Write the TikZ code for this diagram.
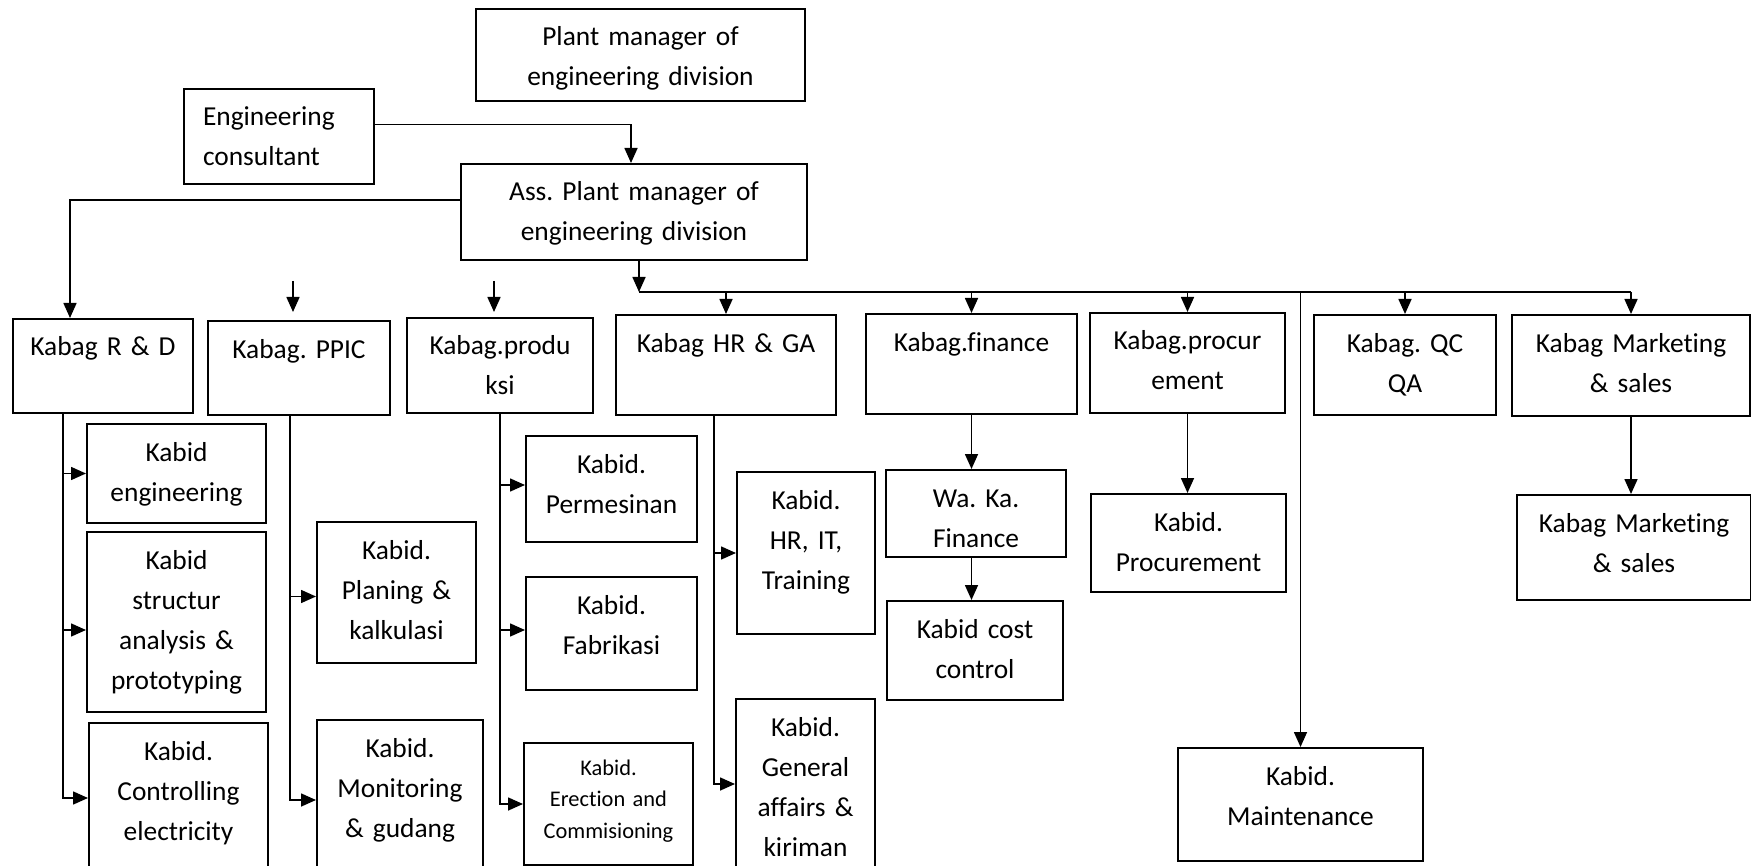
\documentclass[tikz,border=0pt]{standalone}
\usepackage{fontspec}
\setmainfont{Carlito}[Ligatures=NoCommon]
\usetikzlibrary{arrows.meta}
\frenchspacing

\begin{document}
\begin{tikzpicture}[
    x=0.5pt, y=-0.5pt,
    font=\fontsize{13.7}{20}\selectfont,
    orgbox/.style={draw, line width=1pt, anchor=north west, inner sep=0pt,
                   align=center, text height=18.5pt},
    link/.style={line width=0.8pt},
    arr/.style={link, -{Triangle[length=7.5pt, width=6.5pt]}}
]
\clip (0,0) rectangle (1751,866);

% management
\node[orgbox, text width=164.5pt, text depth=27.5pt] (plant) at (475,8) {Plant manager of\\engineering division};
\node[orgbox, align=left, inner xsep=9.5pt, text width=76pt, text depth=29pt] (cons) at (183,88) {Engineering\\consultant};
\node[orgbox, text width=173pt, text depth=29.5pt] (ass) at (460,163) {Ass. Plant manager of\\engineering division};

% kabag row
\node[orgbox, text width=90pt, text depth=28.5pt] (rnd) at (12,318) {Kabag R \& D};
\node[orgbox, text width=91pt, text depth=28.5pt] (ppic) at (207,320) {Kabag. PPIC};
\node[orgbox, text width=93pt, text depth=29pt] (prod) at (406,317) {Kabag.produ\\ksi};
\node[orgbox, text width=110pt, text depth=31.5pt] (hrga) at (615,314) {Kabag HR \& GA};
\node[orgbox, text width=105.5pt, text depth=31.5pt] (fin) at (865,313) {Kabag.finance};
\node[orgbox, text width=97.5pt, text depth=31.5pt] (proc) at (1089,312) {Kabag.procur\\ement};
\node[orgbox, text width=91pt, text depth=31.5pt] (qc) at (1313,314) {Kabag. QC\\QA};
\node[orgbox, text width=119pt, text depth=32pt] (mkt) at (1511,314) {Kabag Marketing\\\& sales};

% kabid boxes
\node[orgbox, text width=89.5pt, text depth=31pt] (keng) at (86,423) {Kabid\\engineering};
\node[orgbox, text width=89.5pt, text depth=71.5pt] (kstr) at (86,531) {Kabid\\structur\\analysis \&\\prototyping};
\node[orgbox, text width=89.5pt, text depth=56.5pt] (kctl) at (88,722) {Kabid.\\Controlling\\electricity};
\node[orgbox, text width=79.5pt, text depth=52pt] (kplan) at (316,521) {Kabid.\\Planing \&\\kalkulasi};
\node[orgbox, text width=83pt, text depth=56.5pt] (kmon) at (316,719) {Kabid.\\Monitoring\\\& gudang};
\node[orgbox, text width=85.5pt, text depth=34.5pt] (kperm) at (525,435) {Kabid.\\Permesinan};
\node[orgbox, text width=85.5pt, text depth=38pt] (kfab) at (525,576) {Kabid.\\Fabrikasi};
\node[orgbox, font=\fontsize{11.2}{15.8}\selectfont, text height=16pt,
      text width=84.5pt, text depth=45pt] (kerec) at (523,742) {Kabid.\\Erection and\\Commisioning};
\node[orgbox, text width=69pt, text depth=62.5pt] (khr) at (736,471) {Kabid.\\HR, IT,\\Training};
\node[orgbox, text width=69.5pt, text depth=66.5pt] (kga) at (735,698) {Kabid.\\General\\affairs \&\\kiriman};
\node[orgbox, text width=90pt, text depth=25pt] (waka) at (885,469) {Wa. Ka.\\Finance};
\node[orgbox, text width=88pt, text depth=31pt] (kcost) at (886,600) {Kabid cost\\control};
\node[orgbox, text width=97.5pt, text depth=30.5pt] (kproc) at (1090,493) {Kabid.\\Procurement};
\node[orgbox, text width=122.5pt, text depth=38pt] (kmnt) at (1177,747) {Kabid.\\Maintenance};
\node[orgbox, text width=117pt, text depth=34pt] (kmkt) at (1516,494) {Kabag Marketing\\\& sales};

% top links
\draw[arr] ([yshift=6pt]cons.east) -| ([xshift=-1.5pt]ass.north);
\draw[arr] ([yshift=6pt]ass.west) -| ([xshift=-16.5pt]rnd.north);
\coordinate (bus) at ([xshift=2.5pt, yshift=-15.5pt]ass.south);
\draw[arr] ([xshift=2.5pt]ass.south) -- (bus);
\draw[link] (bus) -- (bus -| mkt.north);
\foreach \n in {hrga, fin, proc, qc, mkt}
  \draw[arr] (bus -| \n.north) -- (\n.north);
\draw[arr] (bus -| kmnt.north) -- (kmnt.north);
\draw[arr] ([xshift=-3pt, yshift=19.5pt]ppic.north) -- ([xshift=-3pt, yshift=4pt]ppic.north);
\draw[arr] ([xshift=-3pt, yshift=18pt]prod.north) -- ([xshift=-3pt, yshift=2.5pt]prod.north);

% trunks to kabid
\draw[arr] ([xshift=-20pt]rnd.south) |- (keng.west);
\draw[arr] ([xshift=-20pt]rnd.south) |- ([yshift=-4pt]kstr.west);
\draw[arr] ([xshift=-20pt]rnd.south) |- (kctl.west);
\draw[arr] ([xshift=-4.5pt]ppic.south) |- ([yshift=-2pt]kplan.west);
\draw[arr] ([xshift=-4.5pt]ppic.south) |- ([yshift=-2.5pt]kmon.west);
\draw[arr] (prod.south) |- ([yshift=2pt]kperm.west);
\draw[arr] (prod.south) |- ([yshift=1.75pt]kfab.west);
\draw[arr] (prod.south) |- (kerec.west);
\draw[arr] ([xshift=-6pt]hrga.south) |- (khr.west);
\draw[arr] ([xshift=-6pt]hrga.south) |- (kga.west);
\draw[arr] (fin.south) -- (fin.south |- waka.north);
\draw[arr] (fin.south |- waka.south) -- (fin.south |- kcost.north);
\draw[arr] (proc.south) -- (proc.south |- kproc.north);
\draw[arr] (mkt.south) -- (mkt.south |- kmkt.north);

\end{tikzpicture}
\end{document}
